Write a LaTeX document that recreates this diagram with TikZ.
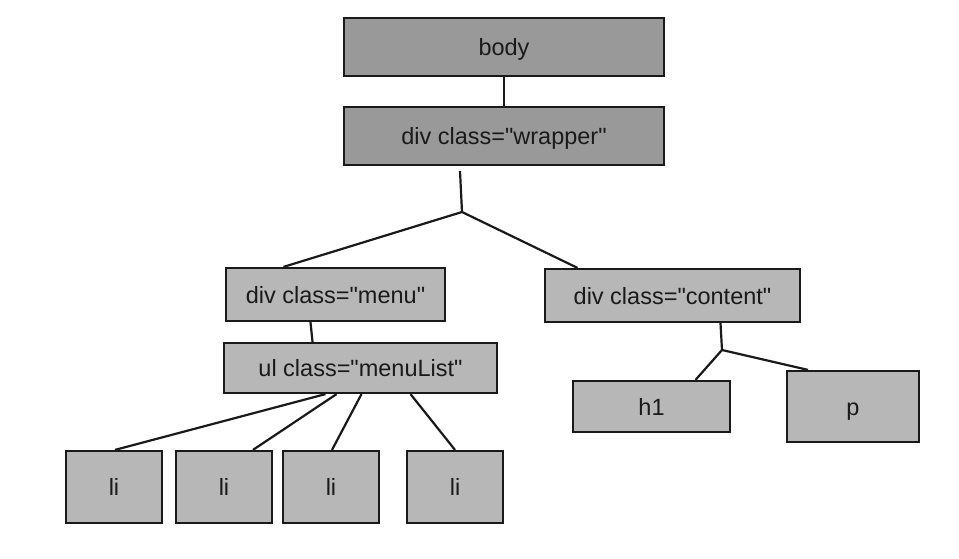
\documentclass[tikz,border=0pt]{standalone}
\usepackage{fontspec}
\setmainfont{Liberation Sans}[Ligatures=TeXOff]
\usetikzlibrary{calc}

\definecolor{darkbox}{HTML}{999999}
\definecolor{lightbox}{HTML}{B7B7B7}
\definecolor{ink}{HTML}{1A1A1A}

\begin{document}
\begin{tikzpicture}[x=1pt, y=-1pt, line width=2.2pt, draw=ink,
    box/.style = {draw=ink, text=ink, inner sep=0pt, text height=19pt, text depth=2pt, font=\fontsize{23.5}{27}\selectfont},
    main/.style = {box, fill=darkbox, minimum width=320pt, minimum height=58pt},
    sub/.style = {box, fill=lightbox},
    leaf/.style = {sub, minimum width=96pt, minimum height=72pt}]
    \fill[white] (0,0) rectangle (959,559);
    \useasboundingbox (0,0) rectangle (959,559);

    \node[main] (body) at (504,47) {body};
    \node[main] (wrapper) at (504,136) {div class="wrapper"};
    \node[sub, minimum width=219pt, minimum height=53pt] (menu) at (335.5,294.5) {div class="menu"};
    \node[sub, minimum width=273pt, minimum height=50pt] (menulist) at (360.5,368) {ul class="menuList"};
    \node[sub, minimum width=255pt, minimum height=53pt] (content) at (672.5,295.5) {div class="content"};
    \node[sub, minimum width=157pt, minimum height=51pt] (h1) at (651.5,406.5) {h1};
    \node[sub, minimum width=132pt, minimum height=71pt] (p) at (853,406.5) {p};
    \node[leaf] (li1) at (114,487) {li};
    \node[leaf] (li2) at (224,487) {li};
    \node[leaf] (li3) at (331,487) {li};
    \node[leaf] (li4) at (455,487) {li};

    \coordinate (split1) at (462,212);
    \coordinate (split2) at (722,350);

    \draw (body) -- (wrapper);
    \draw ($(wrapper.south)+(-44,5)$) -- (split1);
    \draw (split1) -- ($(menu.north)+(-52,0)$);
    \draw (split1) -- ($(content.north)+(-95,0)$);
    \draw ($(menu.south)+(-25,0)$) -- ($(menulist.north)+(-48,0)$);
    \draw ($(menulist.south)+(-35,0)$) -- ($(li1.north)+(1,0)$);
    \draw ($(menulist.south)+(-24,0)$) -- ($(li2.north)+(29,0)$);
    \draw ($(menulist.south)+(1,0)$) -- ($(li3.north)+(1,0)$);
    \draw ($(menulist.south)+(50,0)$) -- (li4.north);
    \draw ($(content.south)+(48,0)$) -- (split2);
    \draw (split2) -- ($(h1.north)+(44,0)$);
    \draw (split2) -- ($(p.north)+(-45,0)$);
\end{tikzpicture}
\end{document}
